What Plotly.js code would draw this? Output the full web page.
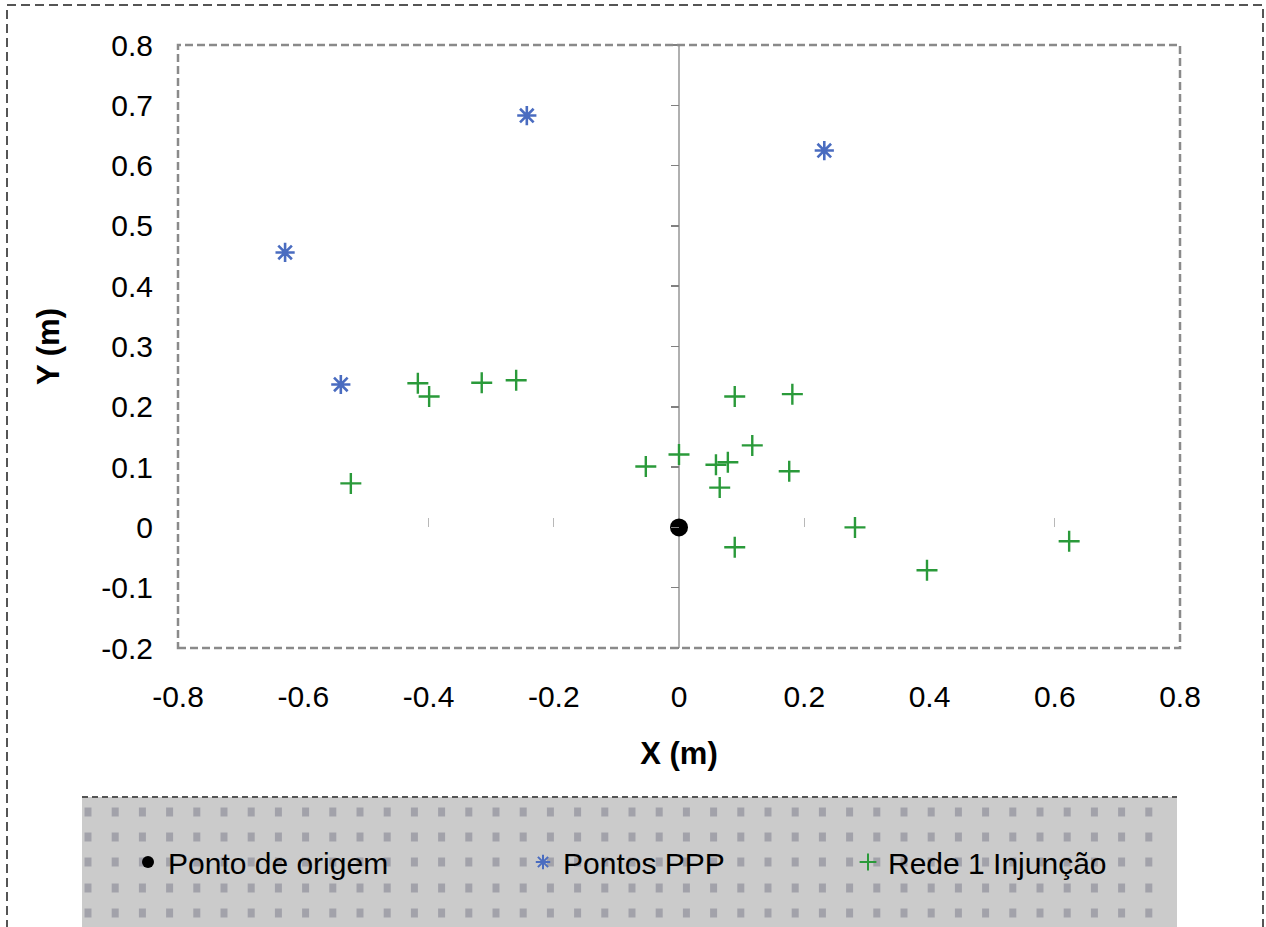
<!DOCTYPE html>
<html>
<head>
<meta charset="utf-8">
<script src="https://cdn.plot.ly/plotly-3.0.1.min.js"></script>
<style>html,body{margin:0;padding:0;background:#fff;}#chart{width:1266px;height:927px;}</style>
</head>
<body>
<div id="chart"></div>
<script>
// ---- Data ----
const seriesNames = ["Ponto de origem", "Pontos PPP", "Rede 1 Injunção"];
const origemX = [0];
const origemY = [0];
const pppX = [-0.629, -0.540, -0.243, 0.232];
const pppY = [0.456, 0.237, 0.683, 0.625];
const redeX = [-0.417, -0.399, -0.315, -0.260, -0.524, -0.053, 0.000, 0.059, 0.078, 0.065, 0.089, 0.181, 0.117, 0.176, 0.089, 0.281, 0.396, 0.623];
const redeY = [0.239, 0.217, 0.240, 0.244, 0.073, 0.101, 0.121, 0.104, 0.108, 0.066, 0.217, 0.221, 0.136, 0.093, -0.033, 0.000, -0.071, -0.023];
const xTicks = [-0.8, -0.6, -0.4, -0.2, 0, 0.2, 0.4, 0.6, 0.8];
const xTickText = ["-0.8", "-0.6", "-0.4", "-0.2", "0", "0.2", "0.4", "0.6", "0.8"];
const yTicks = [-0.2, -0.1, 0, 0.1, 0.2, 0.3, 0.4, 0.5, 0.6, 0.7, 0.8];
const yTickText = ["-0.2", "-0.1", "0", "0.1", "0.2", "0.3", "0.4", "0.5", "0.6", "0.7", "0.8"];

const FONT = "Liberation Sans, Arial, sans-serif";

const traces = [
  {
    x: origemX, y: origemY, name: seriesNames[0], type: "scatter", mode: "markers",
    marker: {symbol: "circle", size: 18, color: "#000000"},
    legend: "legend"
  },
  {
    x: pppX, y: pppY, name: seriesNames[1], type: "scatter", mode: "markers",
    marker: {symbol: "asterisk-open", size: 16, color: "#4a6cc0", line: {color: "#4a6cc0", width: 2.6}},
    legend: "legend2"
  },
  {
    x: redeX, y: redeY, name: seriesNames[2], type: "scatter", mode: "markers",
    marker: {symbol: "cross-thin-open", size: 15, color: "#2a9a3a", line: {color: "#2a9a3a", width: 2.4}},
    legend: "legend3"
  },
  // invisible helper trace so the secondary axes (tick marks on the zero lines) render
  {x: [0], y: [0], xaxis: "x2", yaxis: "y2", mode: "markers", marker: {opacity: 0}, showlegend: false, hoverinfo: "skip"}
];

// decorative pattern for legend background
const shapes = [];
const pxX = p => (p - 178) / 1002;
const pxY = p => (648 - p) / 603;
shapes.push({type: "rect", xref: "paper", yref: "paper", x0: pxX(82), x1: pxX(1177), y0: pxY(940), y1: pxY(797),
  fillcolor: "#cbcbcb", line: {width: 0}, layer: "below"});
const rowsY = [812, 837, 862, 888, 913];
for (const ry of rowsY) {
  for (let cx = 88; cx < 1172; cx += 27.2) {
    shapes.push({type: "rect", xref: "paper", yref: "paper", x0: pxX(cx - 3.5), x1: pxX(cx + 3.5), y0: pxY(ry + 4.5), y1: pxY(ry - 4.5),
      fillcolor: "#a2a2aa", line: {width: 0}, layer: "below"});
  }
}
shapes.push({type: "line", xref: "paper", yref: "paper", x0: pxX(82), x1: pxX(1177), y0: pxY(797), y1: pxY(797),
  line: {color: "#555", width: 2, dash: "6px,4px"}});
// outer chart border
shapes.push({type: "rect", xref: "paper", yref: "paper", x0: pxX(7), x1: pxX(1263), y0: pxY(960), y1: pxY(5),
  line: {color: "#555", width: 2, dash: "9px,5px"}, fillcolor: "rgba(0,0,0,0)"});
// plot area border
shapes.push({type: "rect", xref: "paper", yref: "paper", x0: 0, x1: 1, y0: 0, y1: 1,
  line: {color: "#8a8a8a", width: 2.5, dash: "8px,4px"}, fillcolor: "rgba(0,0,0,0)"});

const legendCommon = {orientation: "h", y: pxY(862), yanchor: "middle", xanchor: "left",
  bgcolor: "rgba(0,0,0,0)", borderwidth: 0, itemsizing: "constant",
  font: {family: FONT, size: 30, color: "#000"}};

const layout = {
  width: 1266, height: 927,
  margin: {l: 178, r: 86, t: 45, b: 279},
  paper_bgcolor: "#ffffff", plot_bgcolor: "#ffffff",
  font: {family: FONT, color: "#000"},
  xaxis: {
    range: [-0.8, 0.8], tickvals: xTicks, ticktext: xTickText,
    showgrid: false, zeroline: true, zerolinecolor: "#b0b0b0", zerolinewidth: 1.5,
    showline: false, ticks: "", ticklabelstandoff: 28,
    tickfont: {family: FONT, size: 30, color: "#000"},
    title: {text: "<b>X (m)</b>", font: {family: FONT, size: 31, color: "#000"}, standoff: 30}
  },
  yaxis: {
    range: [-0.2, 0.8], tickvals: yTicks, ticktext: yTickText,
    showgrid: false, zeroline: false, showline: false, ticks: "", ticklabelstandoff: 24,
    tickfont: {family: FONT, size: 30, color: "#000"},
    title: {text: "<b>Y (m)</b>", font: {family: FONT, size: 31, color: "#000"}, standoff: 32}
  },
  xaxis2: {
    overlaying: "x", matches: "x", anchor: "free", position: 0.2, side: "bottom",
    tickvals: [-0.4, -0.2, 0.2, 0.6], ticks: "inside", ticklen: 9, tickcolor: "#b8b8b8", tickwidth: 1,
    showticklabels: false, showgrid: false, zeroline: false, showline: false
  },
  yaxis2: {
    overlaying: "y", matches: "y", anchor: "free", position: 0.5, side: "left",
    tickvals: yTicks, ticks: "outside", ticklen: 8, tickcolor: "#808080", tickwidth: 1.5,
    showticklabels: false, showgrid: false, zeroline: false, showline: false
  },
  showlegend: true,
  legend: Object.assign({}, legendCommon, {x: pxX(128)}),
  legend2: Object.assign({}, legendCommon, {x: pxX(523)}),
  legend3: Object.assign({}, legendCommon, {x: pxX(848)}),
  shapes: shapes
};

Plotly.newPlot("chart", traces, layout, {displayModeBar: false, staticPlot: true});
</script>
</body>
</html>
